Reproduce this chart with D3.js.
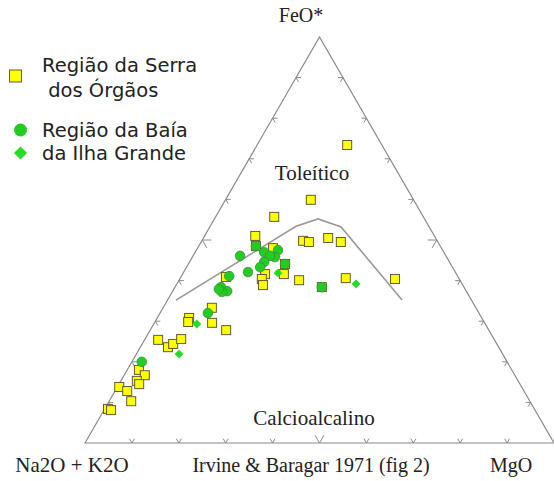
<!DOCTYPE html>
<html>
<head>
<meta charset="utf-8">
<script src="https://cdn.jsdelivr.net/npm/d3@7"></script>
<style>
  body { margin: 0; background: #fff; }
  svg { display: block; }
</style>
</head>
<body>
<div id="chart"></div>
<script>
// ternary values as [Na2O+K2O, FeO*, MgO] (percent)
var serra = [
  [7.4, 73.4, 19.2], [21.9, 59.9, 18.2], [31.8, 55.7, 12.5], [38.2, 51.0, 10.8],
  [39.3, 48.5, 12.2], [35.9, 48.0, 16.1], [28.6, 49.8, 21.6], [27.5, 49.5, 23.0],
  [22.9, 50.5, 26.6], [20.7, 49.5, 29.8], [40.8, 41.6, 17.6], [36.8, 41.6, 21.6],
  [42.1, 40.4, 17.5], [42.6, 38.9, 18.5], [49.5, 40.9, 9.6], [34.3, 40.1, 25.6],
  [30.3, 38.4, 31.3], [24.1, 40.6, 35.3], [13.7, 40.4, 45.9], [35.3, 44.1, 20.6],
  [62.4, 30.8, 6.8], [63.1, 29.8, 7.1], [71.7, 25.4, 2.9], [70.5, 23.6, 5.9],
  [69.0, 24.4, 6.6], [66.7, 25.6, 7.7], [79.5, 18.0, 2.5], [78.9, 16.7, 4.4],
  [81.3, 15.3, 3.4], [81.2, 14.5, 4.3], [85.8, 13.8, 0.4], [84.6, 12.8, 2.6],
  [85.0, 10.3, 4.7], [90.9, 8.4, 0.7], [90.4, 8.1, 1.5], [56.3, 33.3, 10.4],
  [58.1, 29.6, 12.3], [56.0, 27.8, 16.2]
];
var baia = [
  [39.3, 48.5, 12.2], [38.3, 47.0, 14.7], [35.1, 47.5, 17.4], [36.6, 45.8, 17.6],
  [37.5, 46.1, 16.4], [43.9, 46.1, 10.0], [35.3, 44.1, 20.6], [39.5, 44.6, 15.9],
  [41.0, 43.3, 15.7], [44.2, 42.1, 13.7], [48.7, 41.1, 10.2], [51.8, 38.4, 9.8],
  [51.0, 37.4, 11.6], [52.2, 37.2, 10.6], [52.5, 37.9, 9.6], [30.3, 38.4, 31.3],
  [57.8, 32.0, 10.2], [77.9, 20.0, 2.1]
];
var ilha = [
  [37.9, 41.9, 20.2], [22.6, 39.2, 38.2], [61.5, 29.3, 9.2], [69.0, 21.9, 9.1]
];
// Irvine & Baragar (1971) tholeiitic / calc-alkaline boundary
var boundary = [
  [63.0, 35.2, 1.8], [28.3, 53.4, 18.3], [22.7, 55.2, 22.1], [18.8, 53.2, 28.0], [14.8, 35.2, 50.0]
];
var tickSteps = [10, 20, 30, 40, 50, 60, 70, 80, 90];
var legendItems = [
  { shape: "square", lines: ["Região da Serra", " dos Órgãos"] },
  { shape: "circle", lines: ["Região da Baía"] },
  { shape: "diamond", lines: ["da Ilha Grande"] }
];

var width = 554, height = 481;

var svg = d3.select("#chart").append("svg")
    .attr("width", width)
    .attr("height", height);

// F (FeO*) sets the height, M + F/2 the horizontal position
var y = d3.scaleLinear().domain([0, 100]).range([443, 37]);
var x = d3.scaleLinear().domain([0, 100]).range([85, 554]);

function proj(d) {
  var s = d[0] + d[1] + d[2];
  var f = d[1] / s * 100, m = d[2] / s * 100;
  return [x(m + f / 2), y(f)];
}

var cA = proj([100, 0, 0]), cF = proj([0, 100, 0]), cM = proj([0, 0, 100]);

svg.append("path")
    .attr("d", "M" + cA + "L" + cF + "L" + cM + "Z")
    .attr("fill", "none")
    .attr("stroke", "#8a8a8a")
    .attr("stroke-width", 1.2);

// chevron ticks along each side, pointing into the triangle
var sides = [[cA, cM, cF], [cM, cF, cA], [cF, cA, cM]];
var tickPaths = [];
sides.forEach(function(s) {
  var p = s[0], q = s[1], o = s[2];
  tickSteps.forEach(function(t) {
    var tx = p[0] + (q[0] - p[0]) * t / 100,
        ty = p[1] + (q[1] - p[1]) * t / 100,
        len = t === 50 ? 9 : 5;
    [p, q].forEach(function(e) {
      var dx = o[0] - e[0], dy = o[1] - e[1], n = Math.hypot(dx, dy);
      tickPaths.push("M" + tx + "," + ty + "l" + (dx / n * len) + "," + (dy / n * len));
    });
  });
});
svg.append("path")
    .attr("d", tickPaths.join(""))
    .attr("fill", "none")
    .attr("stroke", "#8a8a8a")
    .attr("stroke-width", 1);

svg.append("path")
    .datum(boundary)
    .attr("d", d3.line().x(d => proj(d)[0]).y(d => proj(d)[1]))
    .attr("fill", "none")
    .attr("stroke", "#999")
    .attr("stroke-width", 1.6);

svg.selectAll("rect.serra")
    .data(serra)
    .enter().append("rect")
    .attr("class", "serra")
    .attr("x", d => proj(d)[0] - 4.5)
    .attr("y", d => proj(d)[1] - 4.5)
    .attr("width", 9)
    .attr("height", 9)
    .attr("fill", "#ffff00")
    .attr("stroke", "#5e5e34")
    .attr("stroke-width", 1);

svg.selectAll("circle.baia")
    .data(baia)
    .enter().append("circle")
    .attr("class", "baia")
    .attr("cx", d => proj(d)[0])
    .attr("cy", d => proj(d)[1])
    .attr("r", 4.8)
    .attr("fill", "#22cc22")
    .attr("stroke", "#3a8f3a")
    .attr("stroke-width", 0.8);

var diamond = d3.symbol().type(d3.symbolDiamond2).size(50);
svg.selectAll("path.ilha")
    .data(ilha)
    .enter().append("path")
    .attr("class", "ilha")
    .attr("transform", d => "translate(" + proj(d) + ")")
    .attr("d", diamond)
    .attr("fill", "#22dd22");

// labels
var serif = "'Liberation Serif', 'Times New Roman', serif";
function label(txt, px, py, size) {
  svg.append("text")
      .attr("x", px).attr("y", py)
      .attr("text-anchor", "middle")
      .attr("font-family", serif)
      .attr("font-size", size || 20)
      .attr("fill", "#222")
      .text(txt);
}
label("FeO*", 301, 22);
label("Toleítico", 312, 180, 21);
label("Calcioalcalino", 314, 425, 21);
label("Na2O + K2O", 72, 472, 21);
label("Irvine & Baragar 1971 (fig 2)", 311, 472);
label("MgO", 511, 472);

// legend
var lg = svg.append("g")
    .attr("font-family", "'DejaVu Sans', Verdana, sans-serif")
    .attr("font-size", 19.5);
var rows = [[76, 72, 97], [130, 137], [153, 160]];
legendItems.forEach(function(item, i) {
  var cy = rows[i][0];
  if (item.shape === "square") {
    lg.append("rect").attr("x", 9.5).attr("y", cy - 6).attr("width", 12).attr("height", 12)
        .attr("fill", "#ffff00").attr("stroke", "#5e5e34").attr("stroke-width", 1);
  } else if (item.shape === "circle") {
    lg.append("circle").attr("cx", 20.5).attr("cy", cy).attr("r", 6.5).attr("fill", "#22cc22");
  } else {
    lg.append("path").attr("transform", "translate(20.5," + cy + ")")
        .attr("d", d3.symbol().type(d3.symbolDiamond2).size(110)).attr("fill", "#22dd22");
  }
  item.lines.forEach(function(t, j) {
    lg.append("text").attr("x", 42).attr("y", rows[i][j + 1])
        .style("white-space", "pre")
        .attr("fill", "#222").text(t);
  });
});
</script>
</body>
</html>
